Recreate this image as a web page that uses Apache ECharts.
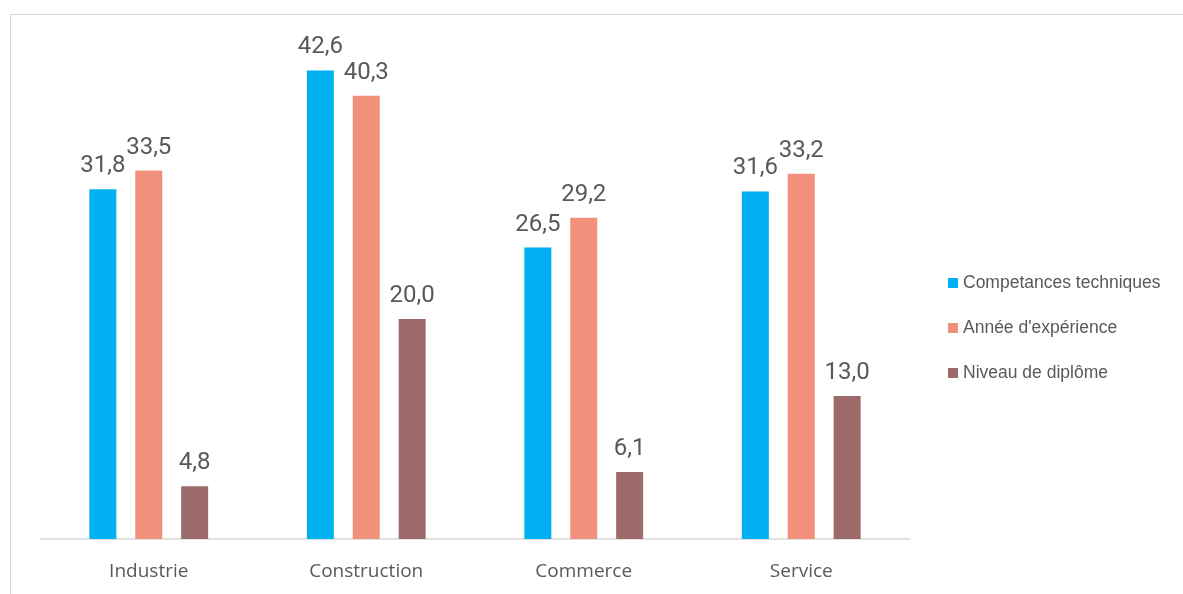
<!DOCTYPE html>
<html>
<head>
<meta charset="utf-8">
<script src="https://cdn.jsdelivr.net/npm/echarts@6/dist/echarts.min.js"></script>
<style>
  html, body { margin: 0; padding: 0; background: #fff; }
  #main { width: 1183px; height: 594px; }
</style>
</head>
<body>
<div id="main"></div>
<script>
// données du graphique
var categories = ['Industrie', 'Construction', 'Commerce', 'Service'];
var seriesNames = ['Competances techniques', "Année d'expérience", 'Niveau de diplôme'];
var competances = [31.8, 42.6, 26.5, 31.6];
var experience = [33.5, 40.3, 29.2, 33.2];
var diplome = [4.8, 20.0, 6.1, 13.0];
var colors = ['#00B0F0', '#F1917B', '#9D6A6A'];

var chart = echarts.init(document.getElementById('main'));

function bar(name, data, color) {
  return {
    name: name,
    type: 'bar',
    data: data,
    barWidth: 27,
    barGap: '70%',
    itemStyle: { color: color },
    label: {
      show: true,
      position: 'top',
      distance: 11,
      color: '#595959',
      fontSize: 24,
      fontFamily: 'Roboto',
      formatter: function (p) {
        return p.value.toFixed(1).replace('.', ',')
      }
    }
  }
}

chart.setOption({
  animation: false,
  graphic: [{
    type: 'rect',
    shape: { x: 10.5, y: 14.5, width: 1200, height: 600 },
    style: { fill: 'none', stroke: '#d9d9d9', lineWidth: 1 },
    silent: true
  }],
  grid: { left: 40, right: 273, top: 44, bottom: 55 },
  legend: {
    orient: 'vertical',
    left: 943,
    top: 269,
    itemWidth: 10,
    itemHeight: 10,
    itemGap: 27,
    icon: 'rect',
    textStyle: { color: '#595959', fontSize: 17.5, fontFamily: 'Liberation Sans' },
    data: seriesNames
  },
  xAxis: {
    type: 'category',
    data: categories,
    axisLine: { lineStyle: { color: '#d9d9d9', width: 1.5 } },
    axisTick: { show: false },
    axisLabel: { color: '#595959', fontSize: 19, fontFamily: 'Open Sans', margin: 23 }
  },
  yAxis: {
    type: 'value',
    min: 0,
    max: 45,
    show: false,
    splitLine: { show: false }
  },
  series: [
    bar(seriesNames[0], competances, colors[0]),
    bar(seriesNames[1], experience, colors[1]),
    bar(seriesNames[2], diplome, colors[2])
  ]
});
</script>
</body>
</html>
